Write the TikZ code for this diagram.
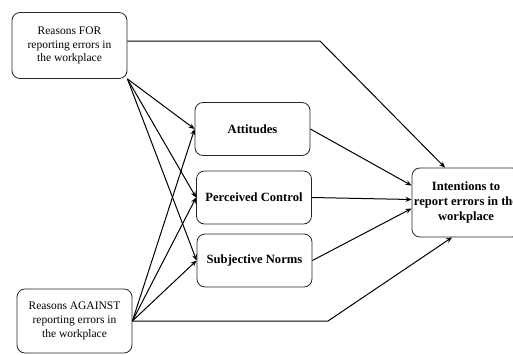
\documentclass[tikz,border=0pt]{standalone}
\usepackage{fontspec}
\setmainfont{Liberation Serif}
\usetikzlibrary{arrows.meta}
\begin{document}
\begin{tikzpicture}[
        x=1pt, y=-1pt,
        font=\fontsize{11.5}{13.8}\selectfont,
        reasonbox/.style={draw=black!85, line width=0.8pt, rounded corners=8pt,
            minimum width=115pt, minimum height=66pt, align=center, inner sep=2pt},
        construct/.style={draw=black!85, line width=0.8pt, rounded corners=8pt,
            minimum width=115pt, minimum height=53pt, align=center, inner sep=2pt,
            font=\fontsize{12.6}{15}\selectfont\bfseries},
        link/.style={black, line width=1pt, -{Stealth[length=6pt, width=5pt]}}
    ]
        % Marco
        \useasboundingbox (0,0) rectangle (513,354);
        \clip (0,0) rectangle (513,354);

        % Razones
        \node[reasonbox] (for) at (69.5,45.5)
            {Reasons FOR\\reporting errors in\\the workplace};
        \node[reasonbox, minimum height=64pt] (against) at (74.5,321)
            {Reasons AGAINST\\reporting errors in\\the workplace};

        % Constructos
        \node[construct] (att) at (252.5,129) {Attitudes};
        \node[construct] (pbc) at (254,197.5) {Perceived Control};
        \node[construct] (sn) at (254.5,260.5) {Subjective Norms};

        % Intenciones
        \node[construct, minimum width=108pt, minimum height=69pt] (int) at (466,202.5)
            {Intentions to\\report errors in the\\workplace};

        % Desde FOR
        \coordinate (fortop) at (320,41);
        \draw[link] (for.east |- fortop) -- (fortop) -- ([xshift=-21pt]int.north);
        \draw[link] (for.south east) -- (att.west);
        \draw[link] (for.south east) -- (pbc.west);
        \draw[link] (for.south east) -- (sn.west);

        % Desde AGAINST
        \coordinate (againstbot) at (328,321);
        \draw[link] (against.east) -- (att.west);
        \draw[link] (against.east) -- (pbc.west);
        \draw[link] (against.east) -- (sn.west);
        \draw[link] (against.east) -- (againstbot) -- ([xshift=-14pt]int.south);

        % Hacia intenciones
        \draw[link] (att.east) -- ([yshift=17pt]int.west);
        \draw[link] (pbc.east) -- ([yshift=3pt]int.west);
        \draw[link] (sn.east) -- ([yshift=-6pt]int.west);

    \end{tikzpicture}
\end{document}
